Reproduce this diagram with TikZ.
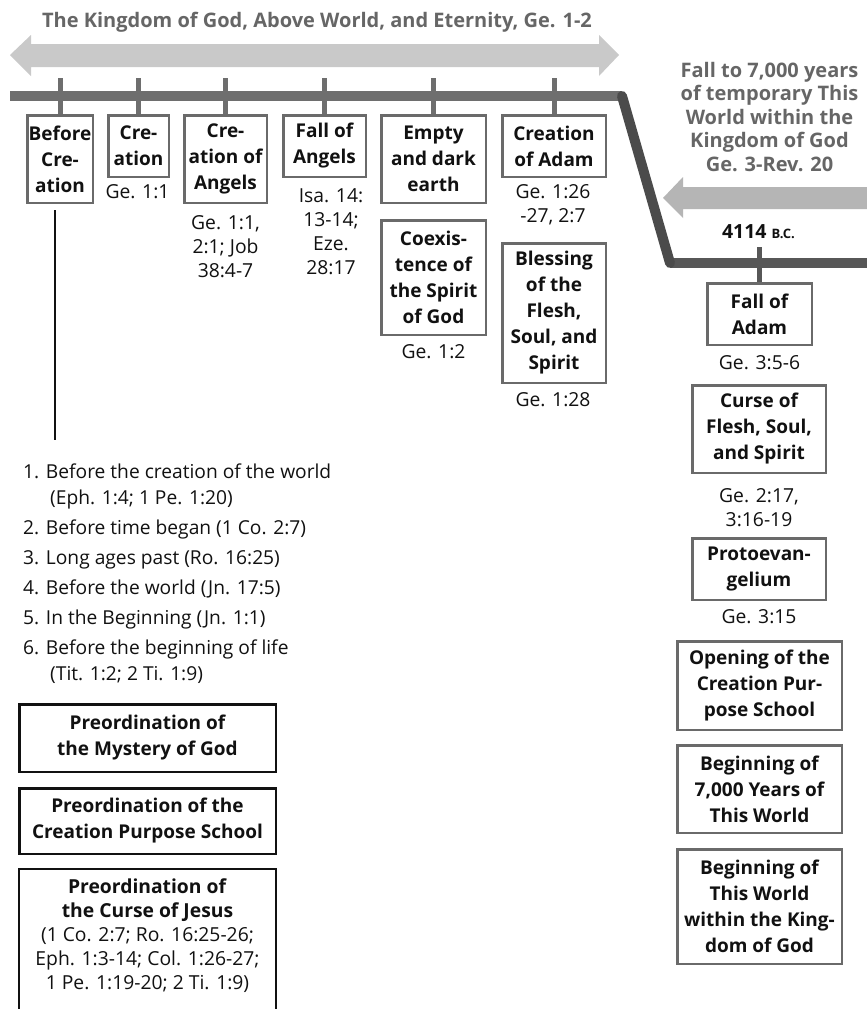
\documentclass[tikz,border=0pt]{standalone}
\usepackage{fontspec}
% Noto Sans with a real bold face when one is available
\IfFontExistsTF{Noto Sans Bold}
  {\setmainfont{Noto Sans}[BoldFont={Noto Sans Bold}]}
  {\IfFontExistsTF{NotoSans-Bold.ttf}
    {\setmainfont{NotoSans}[Extension=.ttf,UprightFont=*-Regular,BoldFont=*-Bold]}
    {\IfFontExistsTF{Open Sans Bold}
      {\setmainfont{Open Sans}[BoldFont={Open Sans Bold}]}
      {\setmainfont{Noto Sans}[BoldFeatures={FakeBold=2.5}]}}}
\definecolor{barmid}{HTML}{6E6E6E}
\definecolor{barlow}{HTML}{575757}
\definecolor{bardiag}{HTML}{4B4B4B}
\definecolor{bandtop}{HTML}{C9C9C9}
\definecolor{bandright}{HTML}{B5B5B5}
\definecolor{captiongray}{HTML}{666666}
\definecolor{framegray}{HTML}{6A6A6A}
\definecolor{ink}{HTML}{111111}
\newcommand\evfont{\bfseries\fontsize{19}{26}\selectfont}
\newcommand\reffont{\fontsize{19.3}{24}\selectfont}
\begin{document}
\begin{tikzpicture}[x=1pt,y=-1pt,
  event/.style={draw=framegray,line width=2.5pt,fill=white,inner sep=1pt,align=center,font=\evfont,text=ink},
  preord/.style={draw=ink,line width=2.5pt,fill=white,inner sep=1pt,align=center,font=\evfont,text=ink},
  ref/.style={align=center,font=\reffont,text=ink,inner sep=0pt},
  caption/.style={align=center,font=\bfseries\fontsize{20}{23.5}\selectfont,text=captiongray,inner sep=0pt},
  tickline/.style={barmid,line width=5pt},
  lowtick/.style={barlow,line width=5pt},
  barline/.style={barmid,line width=10pt},
  lowbar/.style={barlow,line width=10pt},
  diagbar/.style={bardiag,line width=10pt,line cap=round},
]
\useasboundingbox (0,0) rectangle (867,1009);
\fill[white] (0,0) rectangle (867,1009);

% headline and the broad band of the eternal kingdom
\node[caption] (title) at (317,22) {The Kingdom of God, Above World, and Eternity, Ge. 1-2};
\fill[bandtop] (10,55) -- (31,35) -- (31,44) -- (599,44) -- (599,35) -- (619,55)
  -- (599,76) -- (599,67) -- (31,67) -- (31,76) -- cycle;

% caption and band of this world
\node[caption] (world) at (769.5,117) {Fall to 7,000 years\\of temporary This\\World within the\\Kingdom of God\\Ge. 3-Rev. 20};
\fill[bandright] (663,198) -- (683,177) -- (683,187) -- (880,187) -- (880,209)
  -- (683,209) -- (683,218) -- cycle;
\node[inner sep=0pt,font=\bfseries\fontsize{19.5}{24}\selectfont,text=ink] (date) at (758.5,232)
  {4114 {\fontsize{13}{13}\selectfont B.C.}};

% time line
\coordinate (t0) at (10,96);
\coordinate (t1) at (622,96);
\coordinate (t2) at (670,263);
\coordinate (t3) at (880,263);
\draw[barline] (t0) -- (t1);
\draw[lowbar] (t2) -- (t3);
\draw[diagbar] (t1) -- (t2);

% events of the eternal kingdom
\node[event,minimum width=65.5,minimum height=87.5] (b1) at (60,159) {Before\\Cre-\\ation};
\node[event,minimum width=60.5,minimum height=61.5] (b2) at (138.5,146) {Cre-\\ation};
\node[event,minimum width=82.5,minimum height=87.5] (b3) at (225.5,159) {Cre-\\ation of\\Angels};
\node[event,minimum width=82.5,minimum height=61.5] (b4) at (324.5,146) {Fall of\\Angels};
\node[event,minimum width=104.5,minimum height=87.5] (b5) at (433.5,159) {Empty\\and dark\\earth};
\node[event,minimum width=104.5,minimum height=114.5] (b6) at (433.5,277.5) {Coexis-\\tence of\\the Spirit\\of God};
\node[event,minimum width=103.5,minimum height=61.5] (b7) at (554,146) {Creation\\of Adam};
\node[event,minimum width=103.5,minimum height=139.5] (b8) at (554,313) {Blessing\\of the\\Flesh,\\Soul, and\\Spirit};

\foreach \b in {b1,b2,b3,b4,b5,b7}
  \draw[tickline] (\b.north) -- ++(0,-36);

\node[ref] (r2) at (137.5,192) {Ge. 1:1};
\node[ref] (r3) at (225.5,247) {Ge. 1:1,\\2:1; Job\\38:4-7};
\node[ref] (r4) at (331,231.5) {Isa. 14:\\13-14;\\Eze.\\28:17};
\node[ref] (r6) at (433.5,352) {Ge. 1:2};
\node[ref] (r7) at (553,205) {Ge. 1:26\\-27, 2:7};
\node[ref] (r8) at (553,400) {Ge. 1:28};

% the time before creation
\coordinate (vtop) at (55,210);
\coordinate (vbot) at (55,440);
\draw[ink,line width=2pt] (vtop) -- (vbot);

\node[anchor=north west,inner sep=0pt,align=left,font=\fontsize{19.2}{26}\selectfont,text=ink] (list) at (23,464)
  {1. Before the creation of the world\\
   \hspace*{27pt}(Eph. 1:4; 1 Pe. 1:20)\\[4pt]
   2. Before time began (1 Co. 2:7)\\[4pt]
   3. Long ages past (Ro. 16:25)\\[4pt]
   4. Before the world (Jn. 17:5)\\[4pt]
   5. In the Beginning (Jn. 1:1)\\[4pt]
   6. Before the beginning of life\\
   \hspace*{27pt}(Tit. 1:2; 2 Ti. 1:9)};

\node[preord,minimum width=256.5,minimum height=67.5] (p1) at (147.5,738) {Preordination of\\the Mystery of God};
\node[preord,minimum width=256.5,minimum height=65.5] (p2) at (147.5,821) {Preordination of the\\Creation Purpose School};
\node[anchor=north,minimum width=256.5,inner xsep=1pt,inner ysep=10pt,align=center,
      font=\reffont,text=ink] (p3) at (147.5,869)
  {\textbf{Preordination of}\\\textbf{the Curse of Jesus}\\(1 Co. 2:7; Ro. 16:25-26;\\Eph. 1:3-14; Col. 1:26-27;\\1 Pe. 1:19-20; 2 Ti. 1:9)};
\draw[ink,line width=2.5pt] ([yshift=-80pt]p3.south west) -- (p3.north west)
  -- (p3.north east) -- ([yshift=-80pt]p3.south east);

% events of this world
\node[event,minimum width=104.5,minimum height=61.5] (a1) at (759.5,314) {Fall of\\Adam};
\draw[lowtick] (a1.north) -- ++(0,-35);
\node[ref] (ra1) at (759.5,363) {Ge. 3:5-6};
\node[event,minimum width=133.5,minimum height=87.5] (a2) at (759,429) {Curse of\\Flesh, Soul,\\and Spirit};
\node[ref] (ra2) at (759,507.5) {Ge. 2:17,\\3:16-19};
\node[event,minimum width=133.5,minimum height=61.5] (a3) at (759,569) {Protoevan-\\gelium};
\node[ref] (ra3) at (759,617) {Ge. 3:15};
\node[event,minimum width=164.5,minimum height=88.5] (a4) at (759.5,685.5) {Opening of the\\Creation Pur-\\pose School};
\node[event,minimum width=164.5,minimum height=87.5] (a5) at (759.5,789) {Beginning of\\7,000 Years of\\This World};
\node[event,minimum width=164.5,minimum height=114.5] (a6) at (759.5,906.5) {Beginning of\\This World\\within the King-\\dom of God};
\end{tikzpicture}
\end{document}
